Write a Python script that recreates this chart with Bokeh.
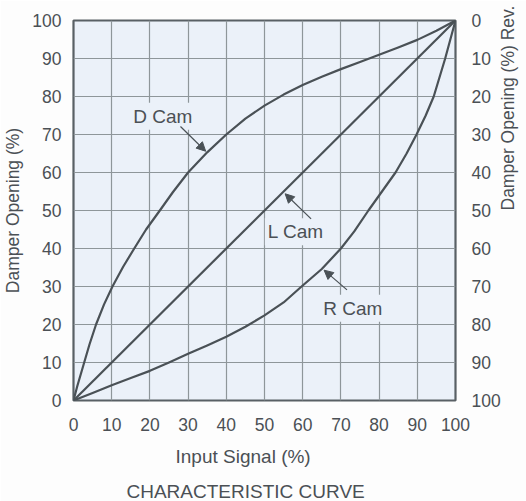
import math
from bokeh.plotting import figure
from bokeh.models import (Range1d, LinearAxis, SingleIntervalTicker, Label,
                          Arrow, NormalHead, Title)
from bokeh.embed import file_html
from bokeh.resources import INLINE

# ---- data ----
d_cam_x = [0, 1, 2.8, 4.2, 5.9, 8, 10.2, 13, 15.9, 19, 22.6, 26, 30, 35, 40,
           45, 50, 55, 60, 65, 70, 75, 80, 85, 90, 95, 100]
d_cam_y = [0, 3.8, 10, 14.8, 20, 25.3, 30, 35.2, 40, 45, 50, 54.8, 60, 65.3, 70,
           74.2, 77.6, 80.5, 83, 85.2, 87.2, 89.1, 91, 92.9, 94.9, 97.3, 100]

l_cam_x = [0, 100]
l_cam_y = [0, 100]

r_cam_x = [0, 5, 10, 15, 20, 25, 30, 35, 40, 45, 50, 55, 59.7, 65, 70, 73.5,
           77.2, 84.3, 87.2, 89.8, 92.2, 94.3, 97.3, 100]
r_cam_y = [0, 2, 4, 5.9, 7.8, 10, 12.3, 14.5, 16.8, 19.4, 22.4, 25.8, 30, 34.6,
           40, 44.5, 50, 60, 65, 70, 75, 80, 90, 100]

cam_names = ["D Cam", "L Cam", "R Cam"]
label_pos = [(23.4, 74.8), (58.2, 44.4), (73.1, 24.3)]
arrow_tail = [(28.0, 72.1), (62.2, 47.8), (71.6, 29.1)]
arrow_head = [(34.6, 65.6), (55.4, 54.4), (65.6, 34.3)]

x_title = "Input Signal (%)"
chart_title = "CHARACTERISTIC CURVE"
y_title = "Damper Opening (%)"
y2_title = "Damper Opening (%) Rev."

# ---- styling ----
BG = "#ebf1f9"
GRID = "#8e969a"
INK = "#4a5156"
TXT = "#4b5055"
FONT = "Liberation Sans"

p = figure(frame_width=382, frame_height=380, output_backend="svg",
           toolbar_location=None,
           x_range=Range1d(0, 100), y_range=Range1d(0, 100),
           min_border_left=60, min_border_right=50, min_border_top=20,
           min_border_bottom=4)
p.background_fill_color = BG
p.border_fill_color = "#fdfdfd"
p.outline_line_color = "#596065"
p.outline_line_width = 2.2

p.extra_y_ranges = {"rev": Range1d(100, 0)}
p.add_layout(LinearAxis(y_range_name="rev"), "right")

for ax in p.axis:
    ax.ticker = SingleIntervalTicker(interval=10)
    ax.axis_line_color = None
    ax.major_tick_line_color = None
    ax.minor_tick_line_color = None
    ax.major_label_text_font = FONT
    ax.major_label_text_font_size = "17.5px"
    ax.major_label_text_color = TXT
    ax.axis_label_text_font = FONT
    ax.axis_label_text_font_size = "17.5px"
    ax.axis_label_text_font_style = "normal"
    ax.axis_label_text_color = TXT

p.xaxis.major_label_standoff = 11
p.yaxis[0].major_label_standoff = 6
p.yaxis[0].axis_label = y_title
p.yaxis[0].axis_label_standoff = 6
p.yaxis[1].major_label_standoff = 10
p.yaxis[1].axis_label = y2_title
p.yaxis[1].axis_label_standoff = 4
p.yaxis[1].axis_label_orientation = math.pi / 2

for g in p.grid:
    g.ticker = SingleIntervalTicker(interval=10)
    g.grid_line_color = GRID
    g.grid_line_width = 1.2

for xs, ys in [(d_cam_x, d_cam_y), (l_cam_x, l_cam_y), (r_cam_x, r_cam_y)]:
    p.line(xs, ys, line_color=INK, line_width=2.2, line_join="round")

for name, (lx, ly), (tx, ty), (hx, hy) in zip(cam_names, label_pos, arrow_tail, arrow_head):
    p.add_layout(Label(x=lx, y=ly, text=name, text_align="center",
                       text_baseline="middle", text_font=FONT,
                       text_font_size="19px", text_color=TXT,
                       background_fill_color=BG, padding=3))
    p.add_layout(Arrow(x_start=tx, y_start=ty, x_end=hx, y_end=hy,
                       line_color=INK, line_width=1.2,
                       end=NormalHead(size=9, fill_color=INK, line_color=INK, line_width=1)))

p.add_layout(Title(text=x_title, align="left", offset=102,
                   text_font=FONT, text_font_size="19px",
                   text_font_style="normal", text_color=TXT,
                   standoff=20), "below")
p.add_layout(Title(text=chart_title, align="left", offset=53,
                   text_font=FONT, text_font_size="19px",
                   text_font_style="normal", text_color=TXT,
                   standoff=5), "below")

open("out.html", "w").write(file_html(p, INLINE))
